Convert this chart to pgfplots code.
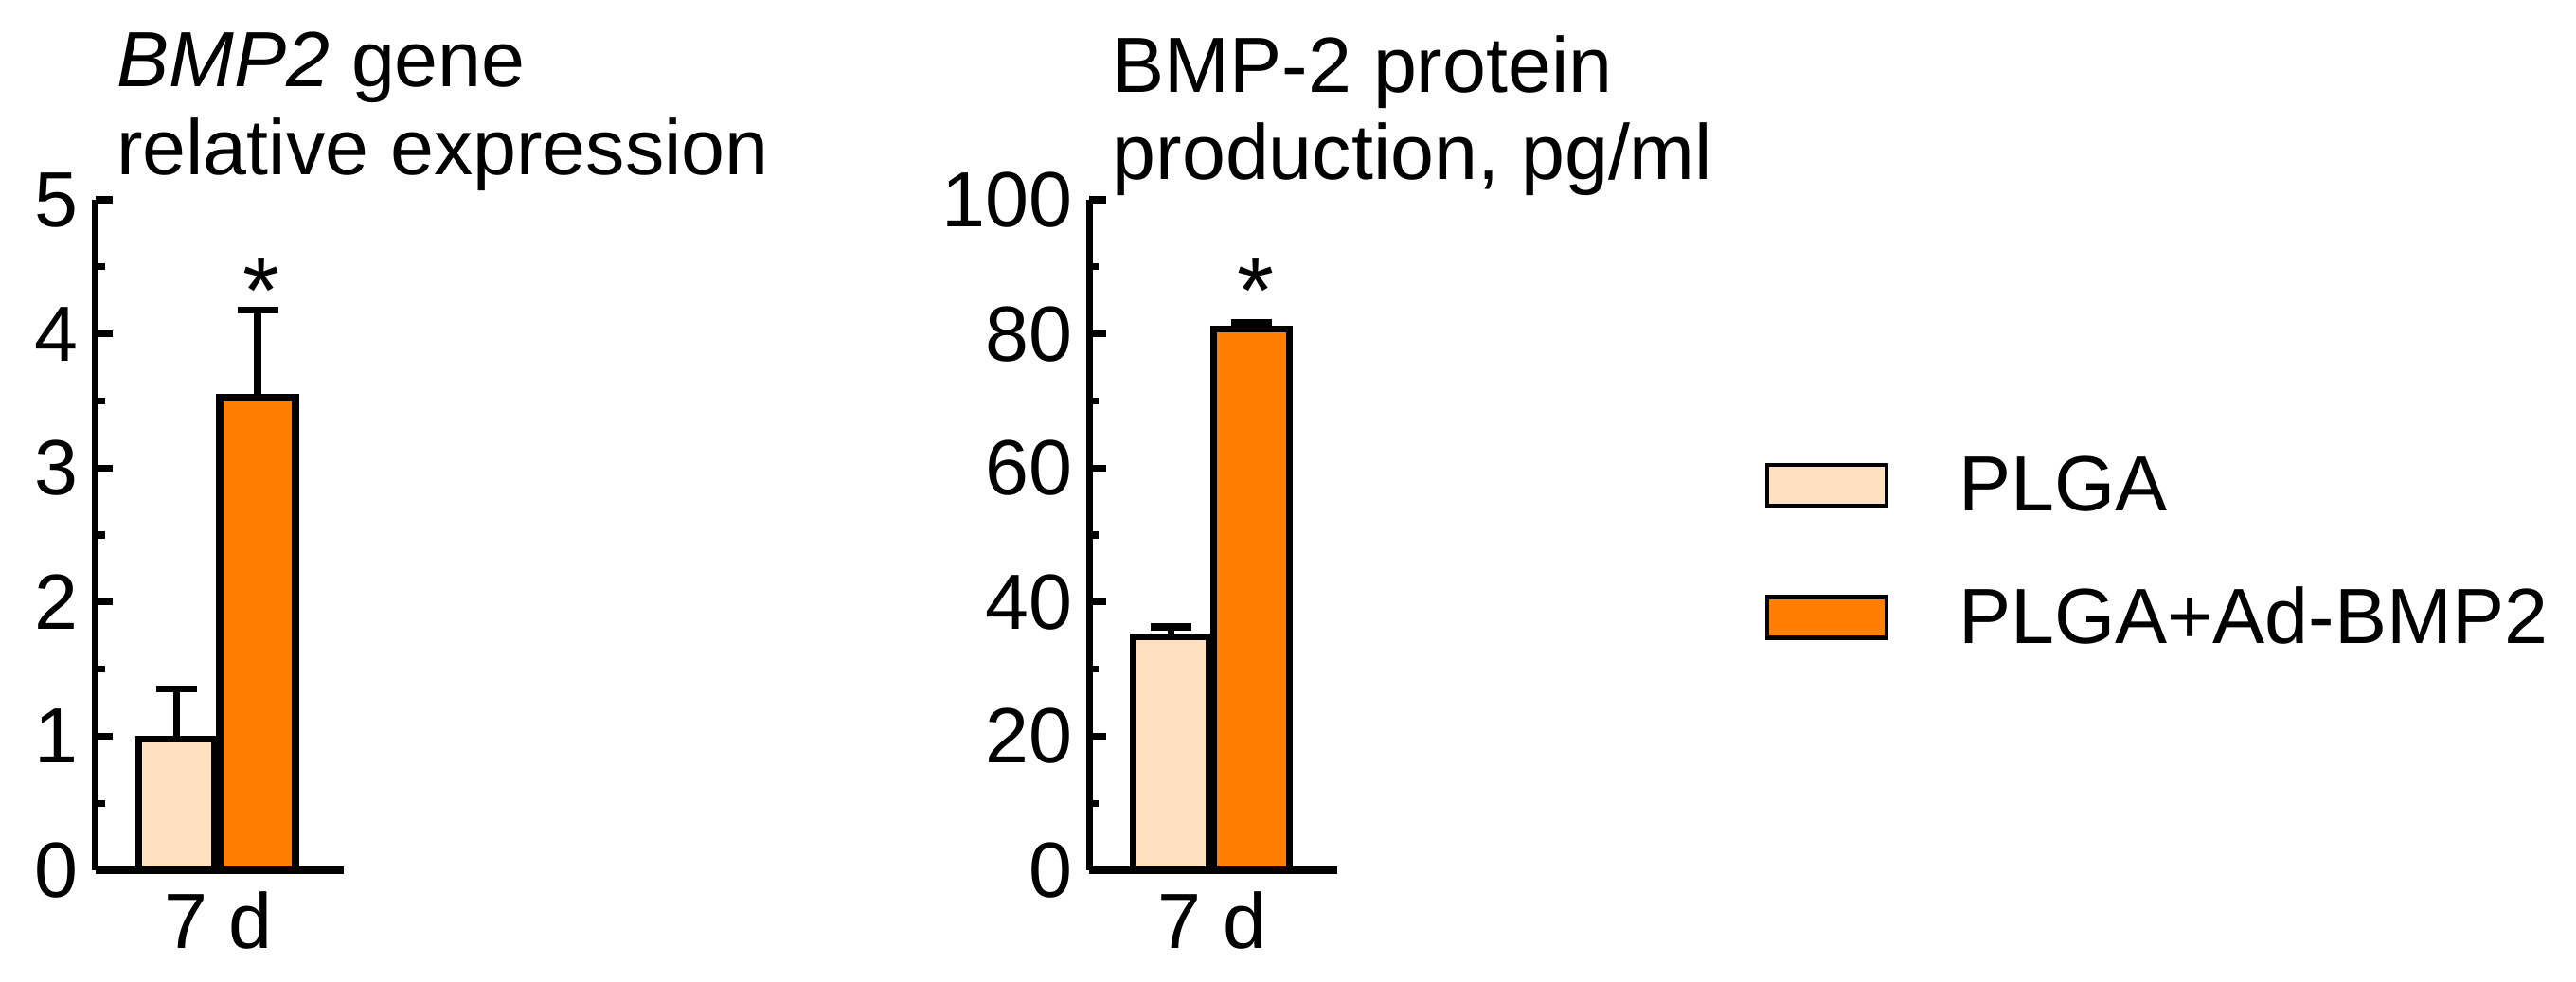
\documentclass[border=0pt]{standalone}
\usepackage{pgfplots}
\pgfplotsset{compat=1.18}
\usepackage{fontspec}
\setmainfont{Liberation Sans}
\definecolor{peach}{RGB}{255,225,194}
\definecolor{borange}{RGB}{255,128,0}
\newcommand{\bigf}{\fontsize{23.5}{27}\selectfont}

\pgfplotsset{
  panel/.style={
    scale only axis, width=2.62cm, height=7.08cm,
    anchor=south west,
    xmin=0, xmax=2.62, ymin=0,
    axis x line=bottom, axis y line=left,
    axis line style={-, line width=2pt},
    tick style={black, line width=2pt},
    tick align=inside,
    major tick length=0.18cm, minor tick length=0.1cm,
    xtick={1.30}, xticklabels={7 d},
    xtick style={draw=none},
    xticklabel style={anchor=base, yshift=-0.83cm},
    yticklabel style={inner sep=0pt, xshift=-0.17cm},
    /pgf/number format/assume math mode=true,
    tick label style={font=\bigf},
    clip=false,
  },
  databar/.style={
    ybar, bar width=0.80cm, bar shift=0pt, line width=2pt, draw=black,
    error bars/y dir=plus, error bars/y explicit,
    error bars/error bar style={line width=2pt, black},
    error bars/error mark options={line width=2pt, mark size=0.215cm, black, rotate=90},
  },
}

\begin{document}
\begin{tikzpicture}
\useasboundingbox (0,0) rectangle (27.2,10.37);

% gene expression
\begin{axis}[panel, at={(1.005cm,1.18cm)}, ymax=5,
  ytick={0,1,2,3,4,5}, minor ytick={0.5,1.5,2.5,3.5,4.5}]
\addplot[databar, fill=peach] coordinates {(0.86,0.98) +- (0,0.37)};
\addplot[databar, fill=borange] coordinates {(1.715,3.53) +- (0,0.65)};
\node[anchor=base, inner sep=0pt, font=\fontsize{28.5}{30}\selectfont] at (axis cs:1.75,4.08) {*};
\end{axis}
\node[anchor=base west, inner sep=0pt, font=\bigf] at (1.225,9.45) {\textit{BMP2} gene};
\node[anchor=base west, inner sep=0pt, font=\bigf] at (1.225,8.52) {relative expression};

% protein
\begin{axis}[panel, at={(11.50cm,1.18cm)}, ymax=100,
  ytick={0,20,40,60,80,100}, minor ytick={10,30,50,70,90},
  legend style={at={(axis description cs:2.682,0.639)}, anchor=north west,
    draw=none, fill=none, font=\bigf, row sep=0.61cm,
    /tikz/every odd column/.append style={column sep=0.67cm}},
  legend cell align=left,
  legend image code/.code={\draw[#1, line width=1.2pt] (0cm,-0.215cm) rectangle (1.26cm,0.215cm);}]
\addplot[databar, fill=peach] coordinates {(0.86,34.8) +- (0,1.5)};
\addlegendentry{PLGA}
\addplot[databar, fill=borange] coordinates {(1.715,80.7) +- (0,1.0)};
\addlegendentry{PLGA+Ad-BMP2}
\node[anchor=base, inner sep=0pt, font=\fontsize{28.5}{30}\selectfont] at (axis cs:1.755,81.5) {*};
\end{axis}
\node[anchor=base west, inner sep=0pt, font=\bigf] at (11.74,9.39) {BMP-2 protein};
\node[anchor=base west, inner sep=0pt, font=\bigf] at (11.74,8.47) {production, pg/ml};
\end{tikzpicture}
\end{document}
